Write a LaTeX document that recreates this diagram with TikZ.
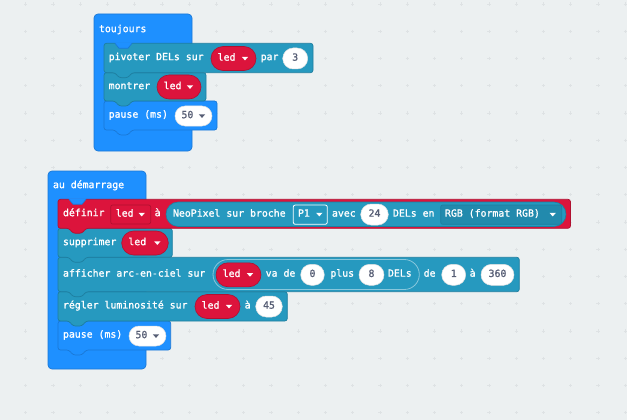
\documentclass[tikz,border=0pt]{standalone}
\usepackage{fontspec}
\newfontfamily\blockfont[FakeBold=1.2]{DejaVu Sans Mono}
\definecolor{bg}{RGB}{236,240,241}
\definecolor{dotc}{RGB}{222,226,228}
\definecolor{hatblue}{HTML}{1E90FF}
\definecolor{hatblueD}{HTML}{1A78D6}
\definecolor{npteal}{HTML}{2699BF}
\definecolor{nptealD}{HTML}{1E7E9F}
\definecolor{varred}{HTML}{DC143C}
\definecolor{varredD}{HTML}{B01030}
\definecolor{numc}{HTML}{575E75}
\tikzset{
  blockline/.style={line width=0.7pt, rounded corners=2.5pt},
  btxt/.style={font=\blockfont\fontsize{9.85}{11}\selectfont, text=white, inner sep=0pt, anchor=mid west},
  ntxt/.style={font=\blockfont\fontsize{9.85}{11}\selectfont, text=numc, inner sep=0pt, anchor=mid},
  dtxt/.style={font=\blockfont\fontsize{9.85}{11}\selectfont, text=numc, inner sep=0pt, anchor=mid west}
}
% stacked block: fill, draw, x1, y1, x2, y2
\newcommand\mkblock[6]{%
  \filldraw[fill=#1,draw=#2,blockline] (#3,#4) -- (#5,#4) -- (#5,#6) -- (#3+28,#6) -- (#3+24,#6+5) -- (#3+15,#6+5) -- (#3+11,#6) -- (#3,#6) -- cycle;}
% hat tab at mouth: x, y
\newcommand\mkhattab[2]{%
  \fill[hatblue] (#1+10.6,#2-1) -- (#1+11,#2) -- (#1+15,#2+5) -- (#1+24,#2+5) -- (#1+28,#2) -- (#1+28.4,#2-1) -- cycle;
  \draw[hatblueD,line width=0.7pt] (#1+11,#2) -- (#1+15,#2+5) -- (#1+24,#2+5) -- (#1+28,#2);}
% arrow: colour, x, y
\newcommand\mkarrow[3]{\fill[#1] (#2-3.2,#3-1.7) -- (#2+3.2,#3-1.7) -- (#2,#3+1.9) -- cycle;}
% red variable pill: x1, x2, yc, name
\newcommand\mkred[4]{%
  \filldraw[fill=varred,draw=varredD,line width=0.6pt,rounded corners=12pt] (#1,#3-12) rectangle (#2,#3+12);
  \node[btxt] (#4) at (#1+6.5,#3) {led};
  \mkarrow{white}{#2-11}{#3}}
% number pill: x1, x2, yc, text, name
\newcommand\mknum[5]{%
  \filldraw[fill=white,draw=black!12,line width=0.5pt,rounded corners=10.5pt] (#1,#3-10.5) rectangle (#2,#3+10.5);
  \node[ntxt] (#5) at ({(#1+#2)/2},#3) {#4};}
% dropdown number pill: x1, x2, yc, text, name
\newcommand\mkdrop[5]{%
  \filldraw[fill=white,draw=black!12,line width=0.5pt,rounded corners=10pt] (#1,#3-10) rectangle (#2,#3+10);
  \node[dtxt] (#5) at (#1+6.3,#3) {#4};
  \mkarrow{numc}{#2-10}{#3}}
\begin{document}
\begin{tikzpicture}[x=1pt,y=-1pt]
\fill[bg] (0,0) rectangle (627,420);
\useasboundingbox (0,0) rectangle (627,420);
% grid dots
\foreach \i in {0,...,23}{\foreach \j in {0,...,15}{
  \draw[dotc,line width=0.7pt] ({-1.55+27.25*\i-1.6},{4+27.25*\j}) -- ({-1.55+27.25*\i+1.6},{4+27.25*\j})
        ({-1.55+27.25*\i},{4+27.25*\j-1.6}) -- ({-1.55+27.25*\i},{4+27.25*\j+1.6});}}

% ================= toujours =================
\filldraw[fill=hatblue,draw=hatblueD,line width=0.7pt,rounded corners=4pt] (94,14) rectangle (192,151);
\mkblock{hatblue}{hatblueD}{104}{101}{217}{130}
\mkblock{npteal}{nptealD}{104}{72.7}{206}{101}
\mkblock{npteal}{nptealD}{104}{43.3}{313}{72.7}
\mkhattab{104}{43.3}
\node[btxt] (tj) at (98.8,30) {toujours};
% pivoter
\node[btxt] (piv) at (108.5,58) {pivoter DELs sur};
\mkred{211}{256}{58.5}{ledA}
\node[btxt] (par) at (260.5,58) {par};
\mknum{282.7}{307.7}{58.5}{3}{nA}
% montrer
\node[btxt] (mon) at (108.5,87) {montrer};
\mkred{157}{201}{87}{ledB}
% pause
\node[btxt] (pa) at (108.5,115.5) {pause (ms)};
\mkdrop{175}{212}{116}{50}{dA}

% ================= au demarrage =================
\filldraw[fill=hatblue,draw=hatblueD,line width=0.7pt,rounded corners=4pt] (48,171) rectangle (146,369);
\mkblock{hatblue}{hatblueD}{58}{321}{170.7}{350}
\mkblock{npteal}{nptealD}{58}{291.7}{287.3}{321}
\mkblock{npteal}{nptealD}{58}{257.3}{519.3}{291.7}
\mkblock{npteal}{nptealD}{58}{228.3}{172.3}{257.3}
\mkblock{varred}{varredD}{58}{199.3}{570.5}{228.3}
\mkhattab{58}{199.3}
\node[btxt] (ad) at (52.8,186) {au démarrage};
% definir
\node[btxt] (def) at (62.8,214) {définir};
\filldraw[fill=varred,draw=varredD,line width=0.7pt,rounded corners=2pt] (110.7,205) rectangle (150.7,224);
\node[btxt] (ledC) at (115.6,214.5) {led};
\mkarrow{white}{141.7}{214.5}
\node[btxt] (aA) at (154.5,214) {à};
\filldraw[fill=npteal,draw=nptealD,line width=0.6pt,rounded corners=12.25pt] (166,202) rectangle (566,226.5);
\node[btxt] (neo) at (172.8,214.5) {NeoPixel sur broche};
\filldraw[fill=npteal,draw=white,line width=0.8pt,rounded corners=2pt] (293.3,205) rectangle (327.3,224.3);
\node[btxt] (pin) at (297.8,214.5) {P1};
\mkarrow{white}{319.3}{214.5}
\node[btxt] (avec) at (331.8,214.5) {avec};
\mknum{360.7}{388.3}{214.5}{24}{nB}
\node[btxt] (delsA) at (392.8,214.5) {DELs en};
\filldraw[fill=nptealD!55!npteal,draw=nptealD,line width=0.7pt,rounded corners=2pt] (440.7,205) rectangle (561.7,224.3);
\node[btxt] (rgb) at (444.8,214.5) {RGB (format RGB)};
\mkarrow{white}{552.7}{214.5}
% supprimer
\node[btxt] (sup) at (62.8,243) {supprimer};
\mkred{121.7}{168.3}{243}{ledD}
% afficher
\node[btxt] (aff) at (62.8,274.5) {afficher arc-en-ciel sur};
\filldraw[fill=npteal,draw=npteal!55!white,line width=0.8pt,rounded corners=15pt] (213,259.5) rectangle (419.3,289.5);
\mkred{216}{261}{274.8}{ledE}
\node[btxt] (vade) at (265.5,274.5) {va de};
\mknum{300.7}{324.3}{274.8}{0}{nC}
\node[btxt] (plus) at (330.2,274.5) {plus};
\mknum{359}{384}{274.8}{8}{nD}
\node[btxt] (delsB) at (387.8,274.5) {DELs};
\node[btxt] (de) at (423.5,274.5) {de};
\mknum{441.7}{465.7}{274.8}{1}{nE}
\node[btxt] (aB) at (469.5,274.5) {à};
\mknum{481}{514}{274.8}{360}{nF}
% regler
\node[btxt] (reg) at (62.8,306.3) {régler luminosité sur};
\mkred{195}{240}{306.5}{ledF}
\node[btxt] (aC) at (244.5,306.3) {à};
\mknum{255.7}{282.3}{306.5}{45}{nG}
% pause
\node[btxt] (pb) at (62.8,335.5) {pause (ms)};
\mkdrop{129}{166}{336}{50}{dB}
\end{tikzpicture}
\end{document}
